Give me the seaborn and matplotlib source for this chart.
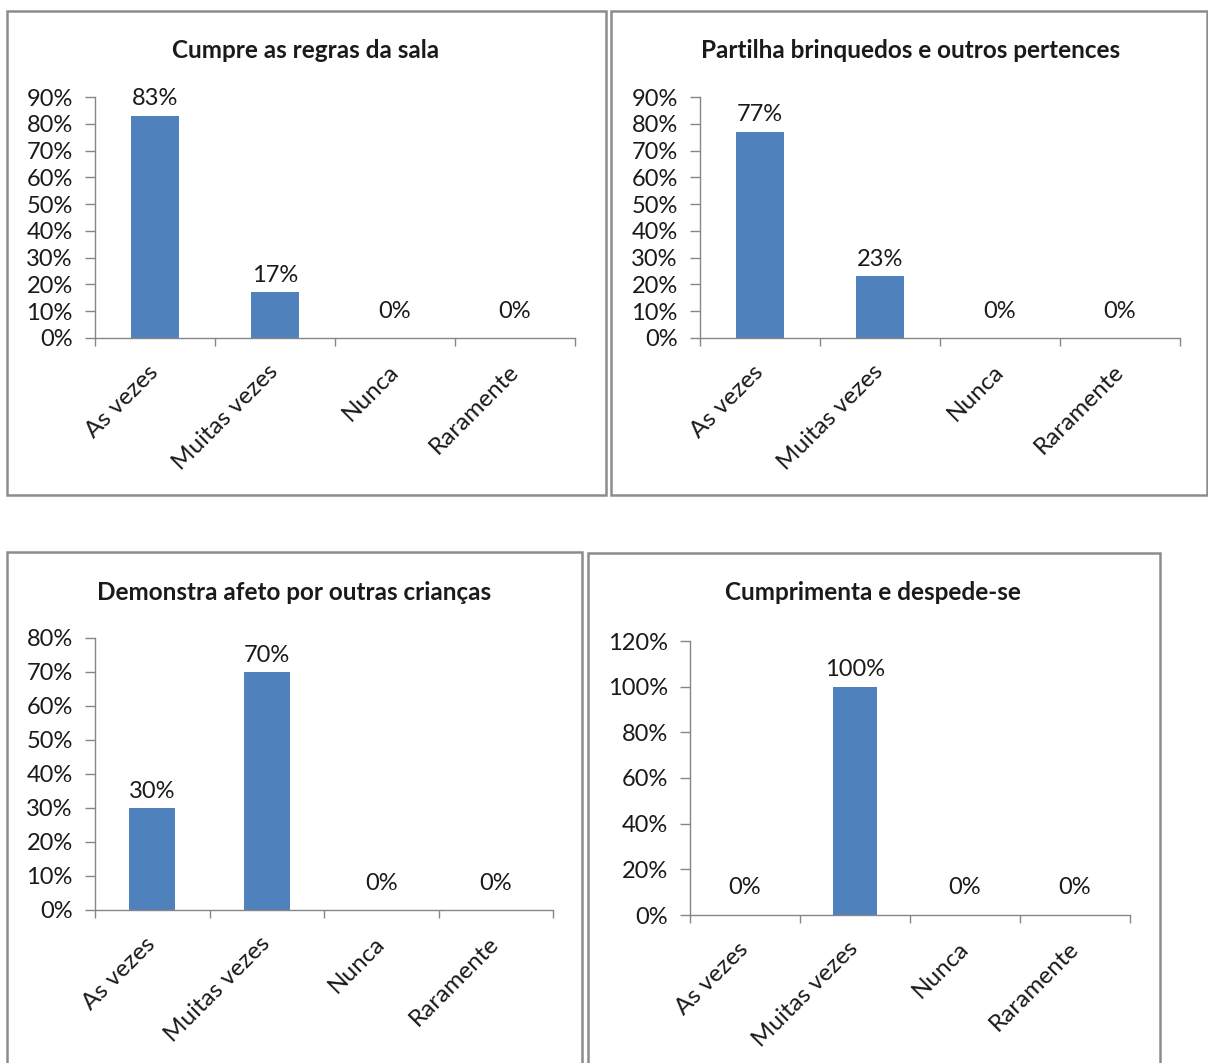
import numpy as np
import pandas as pd
import matplotlib
matplotlib.use("Agg")
import matplotlib.pyplot as plt
import seaborn as sns
from matplotlib.patches import Rectangle
from matplotlib.ticker import PercentFormatter

# ---- data -------------------------------------------------------------
categories = ["As vezes", "Muitas vezes", "Nunca", "Raramente"]
titles = [
    "Cumpre as regras da sala",
    "Partilha brinquedos e outros pertences",
    "Demonstra afeto por outras crianças",
    "Cumprimenta e despede-se",
]
regras = [0.83, 0.17, 0.0, 0.0]
partilha = [0.77, 0.23, 0.0, 0.0]
afeto = [0.30, 0.70, 0.0, 0.0]
cumprimenta = [0.0, 1.00, 0.0, 0.0]
series = [regras, partilha, afeto, cumprimenta]
y_max = [0.9, 0.9, 0.8, 1.2]
y_step = [0.1, 0.1, 0.1, 0.2]

# ---- style ------------------------------------------------------------
sns.set_style("white")
plt.rcParams["font.family"] = ["Lato", "DejaVu Sans"]
BAR = "#4F81BD"
AXIS = "#868686"
TEXT = "#1a1a1a"
FRAME = "#8c8c8c"

W, H = 1208, 1063
fig = plt.figure(figsize=(W / 100, H / 100), dpi=100)
fig.patch.set_facecolor("white")

# pixel layout per panel: frame box, plot area (left, top, right, bottom), title centre
frames = [(7, 11, 606, 495), (611, 11, 1207, 495), (7, 552, 582, 1075), (588, 553, 1160, 1075)]
plots = [(95, 97, 575, 338), (700, 97, 1180, 338), (95, 638, 553, 910), (690, 641, 1130, 915)]
title_pos = [(306, 50), (911, 50), (294, 592), (873, 593)]


def px_rect(x0, y0, x1, y1):
    return [x0 / W, 1 - y1 / H, (x1 - x0) / W, (y1 - y0) / H]


for i in range(4):
    fx0, fy0, fx1, fy1 = frames[i]
    fig.patches.append(Rectangle((fx0 / W, 1 - fy1 / H), (fx1 - fx0) / W, (fy1 - fy0) / H,
                                 transform=fig.transFigure, fill=False,
                                 edgecolor=FRAME, linewidth=1.8, zorder=0))

    ax = fig.add_axes(px_rect(*plots[i]))
    df = pd.DataFrame({"categoria": categories, "valor": series[i]})
    sns.barplot(data=df, x="categoria", y="valor", ax=ax, color=BAR,
                saturation=1, width=0.4, linewidth=0, order=categories)

    ax.set_xlim(-0.5, len(categories) - 0.5)
    ax.set_ylim(0, y_max[i])
    ax.set_yticks(np.arange(0, y_max[i] + 1e-9, y_step[i]))
    ax.yaxis.set_major_formatter(PercentFormatter(1.0, decimals=0))
    ax.set_xlabel("")
    ax.set_ylabel("")

    for side in ("top", "right"):
        ax.spines[side].set_visible(False)
    for side in ("left", "bottom"):
        ax.spines[side].set_color(AXIS)
        ax.spines[side].set_linewidth(1.0)

    ax.tick_params(axis="y", which="major", length=7, width=1, color=AXIS,
                   labelsize=17, labelcolor=TEXT, pad=9, direction="out", left=True)
    ax.set_xticks(np.arange(-0.5, len(categories), 1.0), minor=True)
    ax.tick_params(axis="x", which="minor", length=6, width=1, color=AXIS,
                   direction="out", bottom=True)
    ax.tick_params(axis="x", which="major", length=0, labelsize=17.5,
                   labelcolor=TEXT, pad=22)
    for lab in ax.get_xticklabels():
        lab.set_rotation(45)
        lab.set_ha("right")
        lab.set_va("center")
        lab.set_rotation_mode("anchor")

    # value labels above each bar
    for bar in ax.containers[0]:
        h = bar.get_height()
        off = 17 if h > 0 else 27
        ax.annotate(f"{h:.0%}", (bar.get_x() + bar.get_width() / 2, h),
                    xytext=(0, off), textcoords="offset pixels",
                    ha="center", va="center", fontsize=17, color=TEXT,
                    annotation_clip=False)

    tx, ty = title_pos[i]
    fig.text(tx / W, 1 - ty / H, titles[i], ha="center", va="center",
             fontsize=17.5, fontweight="bold", color=TEXT)

fig.savefig("out.png", dpi=100, facecolor="white")
